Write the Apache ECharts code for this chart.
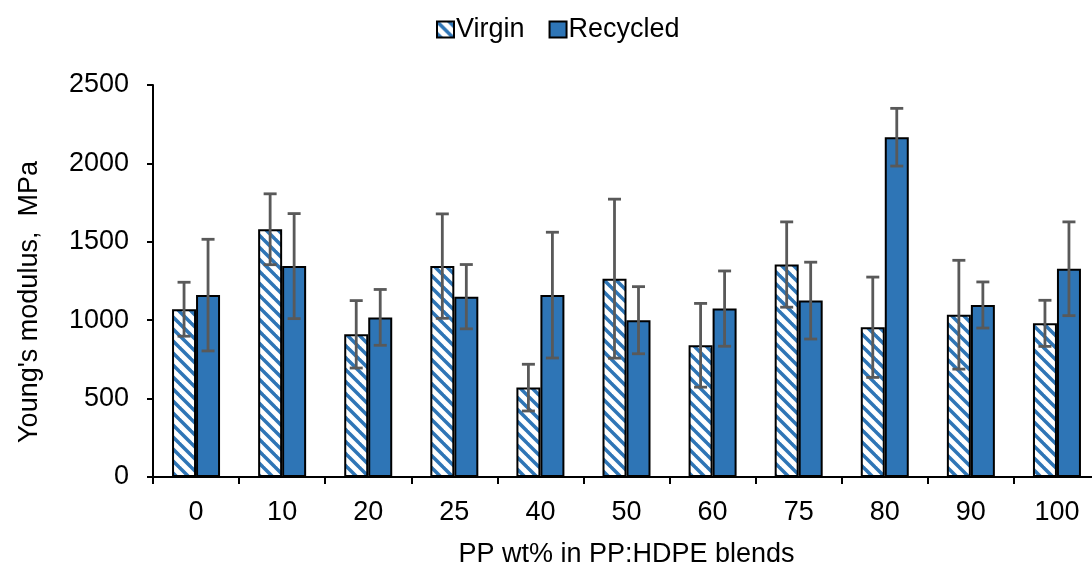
<!DOCTYPE html>
<html>
<head>
<meta charset="utf-8">
<script src="https://cdn.jsdelivr.net/npm/echarts@6/dist/echarts.min.js"></script>
<style>
  html, body { margin: 0; padding: 0; background: #fff; }
  #chart { width: 1092px; height: 562px; }
</style>
</head>
<body>
<div id="chart"></div>
<script>
// PP wt% in the PP:HDPE blend
const categories = ['0', '10', '20', '25', '40', '50', '60', '75', '80', '90', '100'];
// Young's modulus (MPa) and standard deviation
const virgin      = [1070, 1580, 910, 1345, 570, 1265, 840, 1355, 955, 1035, 980];
const virginErr   = [172, 226, 215, 333, 149, 507, 267, 272, 320, 347, 147];
const recycled    = [1160, 1345, 1018, 1150, 1160, 1000, 1074, 1125, 2167, 1097, 1328];
const recycledErr = [356, 335, 178, 205, 401, 214, 240, 245, 184, 147, 299];
const yTicks = { min: 0, max: 2500, interval: 500 };

const BLUE = '#2E75B6';
const FONT = '"Liberation Sans", Arial, sans-serif';
const FS = 27;
const BAR_W = 24;

// diagonal hatch used for the virgin bars
function hatch() {
  const s = 12;
  const c = document.createElement('canvas');
  c.width = s; c.height = s;
  const g = c.getContext('2d');
  g.fillStyle = '#fff';
  g.fillRect(0, 0, s, s);
  g.strokeStyle = BLUE;
  g.lineWidth = 3.5;
  for (const k of [-s, 0, s]) {
    g.beginPath();
    g.moveTo(k - 1, -1);
    g.lineTo(k + s + 1, s + 1);
    g.stroke();
  }
  return c;
}

// vertical error bar with caps, shifted to sit on its bar
function errorBars(offset) {
  return function (params, api) {
    const i = api.value(0), v = api.value(1), e = api.value(2);
    const top = api.coord([i, v + e]);
    const bot = api.coord([i, v - e]);
    const x = top[0] + offset;
    const cap = 6.5;
    const style = { stroke: '#595959', lineWidth: 2.8 };
    return {
      type: 'group',
      children: [
        { type: 'line', shape: { x1: x, y1: top[1], x2: x, y2: bot[1] }, style },
        { type: 'line', shape: { x1: x - cap, y1: top[1], x2: x + cap, y2: top[1] }, style },
        { type: 'line', shape: { x1: x - cap, y1: bot[1], x2: x + cap, y2: bot[1] }, style }
      ]
    };
  };
}

const chart = echarts.init(document.getElementById('chart'), null, { renderer: 'canvas' });
const hatchFill = { image: hatch(), repeat: 'repeat' };

chart.setOption({
  animation: false,
  textStyle: { fontFamily: FONT, color: '#000' },
  legend: {
    data: ['Virgin', 'Recycled'],
    left: 431,
    top: 11,
    itemWidth: 17,
    itemHeight: 16,
    itemGap: 24,
    icon: 'rect',
    itemStyle: { borderColor: '#000', borderWidth: 2 },
    textStyle: { fontSize: FS, color: '#000', fontFamily: FONT, padding: [0, 0, 0, -3] }
  },
  grid: {
    left: 153, right: -8, top: 85, bottom: 85,
    containLabel: false,
    outerBoundsMode: 'none'
  },
  xAxis: {
    type: 'category',
    data: categories,
    name: 'PP wt% in PP:HDPE blends',
    nameLocation: 'middle',
    nameGap: 64,
    nameTextStyle: { fontSize: FS, color: '#000', fontFamily: FONT },
    axisLine: { lineStyle: { color: '#000', width: 2 } },
    axisTick: { show: true, length: 7, lineStyle: { color: '#000', width: 2 } },
    axisLabel: { fontSize: FS, color: '#000', margin: 22, fontFamily: FONT },
    splitLine: { show: false }
  },
  yAxis: {
    type: 'value',
    min: yTicks.min,
    max: yTicks.max,
    interval: yTicks.interval,
    axisLine: { show: true, lineStyle: { color: '#000', width: 2 } },
    axisTick: { show: true, length: 6, lineStyle: { color: '#000', width: 2 } },
    axisLabel: { fontSize: FS, color: '#000', margin: 24, fontFamily: FONT, formatter: v => String(v) },
    splitLine: { show: false }
  },
  graphic: [{
    type: 'text',
    x: 30,
    y: 302,
    rotation: Math.PI / 2,
    style: {
      text: "Young's modulus,  MPa",
      font: FS + 'px ' + FONT,
      fill: '#000',
      align: 'center',
      verticalAlign: 'middle'
    }
  }],
  series: [
    {
      name: 'Virgin',
      type: 'bar',
      data: virgin,
      barWidth: BAR_W,
      barGap: '0%',
      itemStyle: { color: hatchFill, borderColor: '#000', borderWidth: 2 },
      z: 2
    },
    {
      name: 'Recycled',
      type: 'bar',
      data: recycled,
      barWidth: BAR_W,
      barGap: '0%',
      itemStyle: { color: BLUE, borderColor: '#000', borderWidth: 2 },
      z: 2
    },
    {
      name: 'Virgin SD',
      type: 'custom',
      renderItem: errorBars(-BAR_W / 2),
      data: virgin.map((v, i) => [i, v, virginErr[i]]),
      encode: { x: 0, y: 1 },
      z: 5,
      silent: true
    },
    {
      name: 'Recycled SD',
      type: 'custom',
      renderItem: errorBars(BAR_W / 2),
      data: recycled.map((v, i) => [i, v, recycledErr[i]]),
      encode: { x: 0, y: 1 },
      z: 5,
      silent: true
    }
  ]
});
</script>
</body>
</html>
